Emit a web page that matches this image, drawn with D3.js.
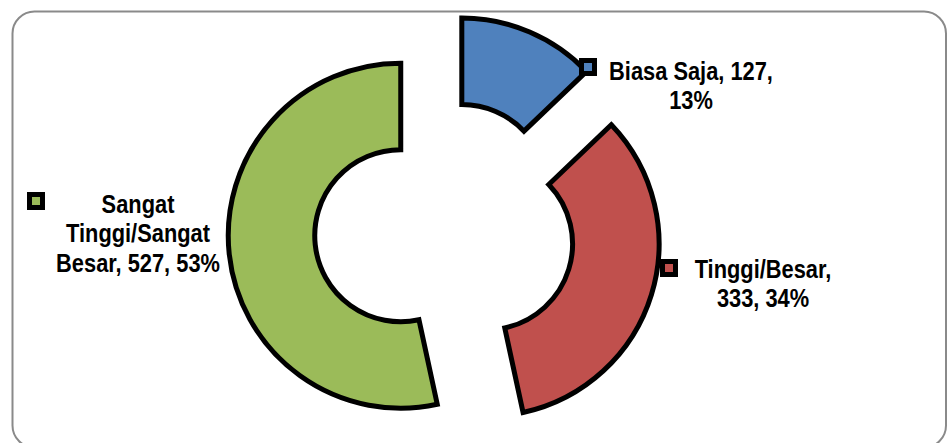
<!DOCTYPE html>
<html>
<head>
<meta charset="utf-8">
<script src="https://cdn.jsdelivr.net/npm/d3@7/dist/d3.min.js"></script>
<style>
  html, body { margin: 0; padding: 0; background: #fff; }
  svg { display: block; }
  .lbl { font-family: "Liberation Sans", Arial, sans-serif; font-weight: bold; font-size: 26px; fill: #000; }
</style>
</head>
<body>
<svg id="chart" width="948" height="443"></svg>
<script>
// ---- data ----
const categories = ["Biasa Saja", "Tinggi/Besar", "Sangat Tinggi/Sangat Besar"];
const values = [127, 333, 527];
const percents = ["13%", "34%", "53%"];
const colors = ["#4F81BD", "#C0504D", "#9BBB59"];
// label lines as displayed (wrapped)
const labelLines = [
  ["Biasa Saja, 127,", "13%"],
  ["Tinggi/Besar,", "333, 34%"],
  ["Sangat", "Tinggi/Sangat", "Besar, 527, 53%"]
];

const svg = d3.select("#chart");

// frame
svg.append("rect")
  .attr("x", 12.5).attr("y", 11.5)
  .attr("width", 933.5).attr("height", 436)
  .attr("rx", 22).attr("ry", 22)
  .attr("fill", "#fff")
  .attr("stroke", "#8a8a8a")
  .attr("stroke-width", 2);

const cx = 444.5, cy = 231;
const outerR = 172.5, innerR = 86;
const explode = 44;

const pie = d3.pie().sort(null).value(d => d).startAngle(0).endAngle(2 * Math.PI);
const arcs = pie(values);
const arc = d3.arc().innerRadius(innerR).outerRadius(outerR);

const g = svg.append("g").attr("transform", `translate(${cx},${cy})`);
g.selectAll("path.slice")
  .data(arcs)
  .enter().append("path")
  .attr("class", "slice")
  .attr("transform", d => {
    const m = (d.startAngle + d.endAngle) / 2;
    return `translate(${explode * Math.sin(m)},${-explode * Math.cos(m)})`;
  })
  .attr("d", arc)
  .attr("fill", (d, i) => colors[i])
  .attr("stroke", "#000")
  .attr("stroke-width", 5)
  .attr("stroke-linejoin", "miter");

// label layout (positions of label blocks)
const labelPos = [
  { key: [588, 67], x: 691, y: 80 },
  { key: [669, 268], x: 763, y: 278 },
  { key: [36, 201], x: 138, y: 213 }
];
const lineH = 29.5;
const sx = 0.84;

labelLines.forEach((lines, i) => {
  const p = labelPos[i];
  svg.append("rect")
    .attr("x", p.key[0] - 6.5).attr("y", p.key[1] - 6.5)
    .attr("width", 13).attr("height", 13)
    .attr("fill", colors[i])
    .attr("stroke", "#000")
    .attr("stroke-width", 5);
  const t = svg.append("text").attr("class", "lbl").attr("text-anchor", "middle")
    .attr("transform", `translate(${p.x},${p.y}) scale(${sx},1)`);
  lines.forEach((ln, j) => {
    t.append("tspan").attr("x", 0).attr("y", j * lineH).text(ln);
  });
});
</script>
</body>
</html>
